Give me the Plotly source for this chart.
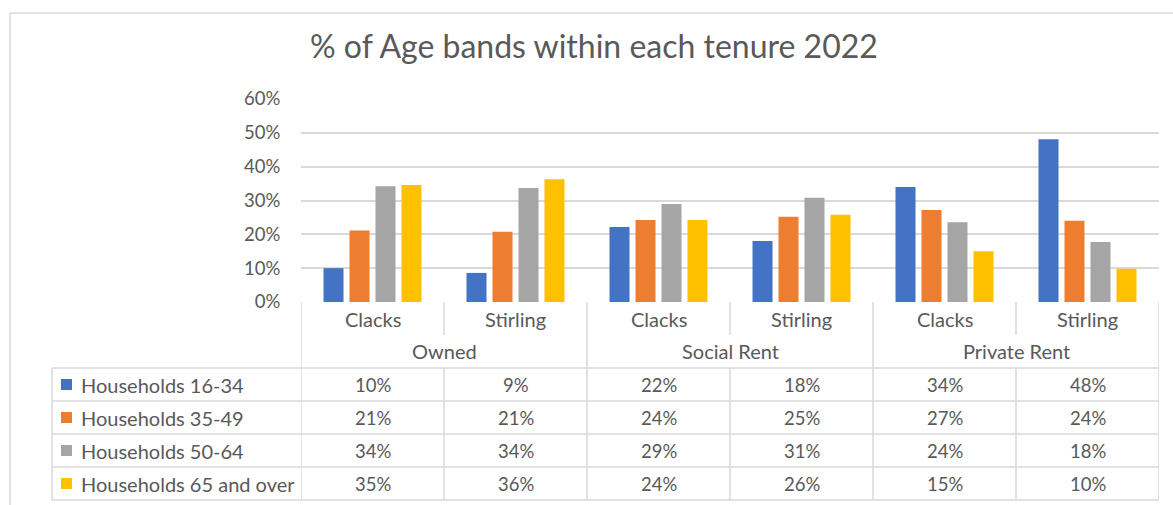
import plotly.graph_objects as go

# ---------------- data ----------------
tenures = ["Owned", "Social Rent", "Private Rent"]
areas = ["Clacks", "Stirling", "Clacks", "Stirling", "Clacks", "Stirling"]
series_names = ["Households 16-34", "Households 35-49", "Households 50-64", "Households 65 and over"]
hh_16_34 = [10.0, 8.6, 22.2, 18.0, 34.0, 48.1]
hh_35_49 = [21.1, 20.8, 24.2, 25.2, 27.2, 24.0]
hh_50_64 = [34.2, 33.7, 29.0, 30.8, 23.6, 17.7]
hh_65_over = [34.6, 36.3, 24.2, 25.8, 15.0, 9.8]
y_ticks = [0, 10, 20, 30, 40, 50, 60]
title_text = "% of Age bands within each tenure 2022"

# ---------------- style ----------------
W, H = 1173, 505
colors = ["#4472C4", "#ED7D31", "#A5A5A5", "#FFC000"]
FONT = "Lato"
TXT = "#595959"
LINE = "#d9d9d9"
LW = 1.5
PLOT_L, PLOT_R, PLOT_T, PLOT_B = 301, 1159, 99, 302
TABLE_L = 52
CAT_Y, GRP_Y = 319, 351
ROW_TOP, ROW_H = 368, 33
FS_TXT = 20
FS_NUM = 18.5


def px(x):
    return x / W


def py(y):
    return 1 - y / H


series_values = [hh_16_34, hh_35_49, hh_50_64, hh_65_over]
xpos = list(range(len(areas)))

fig = go.Figure()
for name, vals, col in zip(series_names, series_values, colors):
    fig.add_trace(go.Bar(x=xpos, y=[v / 100 for v in vals], name=name,
                         marker=dict(color=col, line=dict(width=0))))

shapes = []
annotations = []

# outer chart frame
shapes.append(dict(type="line", xref="paper", yref="paper", x0=px(10), x1=1.0,
                   y0=py(13), y1=py(13), line=dict(color=LINE, width=LW)))
shapes.append(dict(type="line", xref="paper", yref="paper", x0=px(10), x1=px(10),
                   y0=py(13), y1=0.0, line=dict(color=LINE, width=LW)))

n = len(areas)
table_bottom = ROW_TOP + ROW_H * len(series_names)
for i in range(n + 1):
    xb = i - 0.5
    if i % 2 == 0:
        shapes.append(dict(type="line", xref="x", yref="paper", x0=xb, x1=xb,
                           y0=py(PLOT_B), y1=py(table_bottom), line=dict(color=LINE, width=LW)))
    else:
        shapes.append(dict(type="line", xref="x", yref="paper", x0=xb, x1=xb,
                           y0=py(PLOT_B), y1=py(335), line=dict(color=LINE, width=LW)))
        shapes.append(dict(type="line", xref="x", yref="paper", x0=xb, x1=xb,
                           y0=py(ROW_TOP), y1=py(table_bottom), line=dict(color=LINE, width=LW)))
shapes.append(dict(type="line", xref="paper", yref="paper", x0=px(TABLE_L), x1=px(TABLE_L),
                   y0=py(ROW_TOP), y1=py(table_bottom), line=dict(color=LINE, width=LW)))
for r in range(len(series_names) + 1):
    yy = ROW_TOP + r * ROW_H
    shapes.append(dict(type="line", xref="paper", yref="paper", x0=px(TABLE_L), x1=px(PLOT_R),
                       y0=py(yy), y1=py(yy), line=dict(color=LINE, width=LW)))

for i, a in enumerate(areas):
    annotations.append(dict(x=i, xref="x", y=py(CAT_Y), yref="paper", text=a, showarrow=False,
                            xanchor="center", yanchor="middle", font=dict(family=FONT, size=FS_TXT, color=TXT)))
for g, t in enumerate(tenures):
    annotations.append(dict(x=2 * g + 0.5, xref="x", y=py(GRP_Y), yref="paper", text=t, showarrow=False,
                            xanchor="center", yanchor="middle", font=dict(family=FONT, size=FS_TXT, color=TXT)))

for r, (name, vals, col) in enumerate(zip(series_names, series_values, colors)):
    yc = ROW_TOP + r * ROW_H + ROW_H / 2
    shapes.append(dict(type="rect", xref="paper", yref="paper", x0=px(61), x1=px(72),
                       y0=py(yc - 5.5), y1=py(yc + 5.5), fillcolor=col, line=dict(width=0)))
    annotations.append(dict(x=px(79), xref="paper", y=py(yc), yref="paper", text=name, showarrow=False,
                            xanchor="left", yanchor="middle", font=dict(family=FONT, size=FS_TXT, color=TXT)))
    for i, v in enumerate(vals):
        annotations.append(dict(x=i, xref="x", y=py(yc), yref="paper", text=f"{round(v)}%", showarrow=False,
                                xanchor="center", yanchor="middle", font=dict(family=FONT, size=FS_NUM, color=TXT)))

annotations.append(dict(x=px(594), xref="paper", y=py(46), yref="paper", text=title_text, showarrow=False,
                        xanchor="center", yanchor="middle", font=dict(family=FONT, size=32, color=TXT)))

fig.update_layout(
    width=W, height=H, autosize=False,
    margin=dict(l=0, r=0, t=0, b=0, pad=0, autoexpand=False),
    paper_bgcolor="white", plot_bgcolor="white",
    showlegend=False,
    barmode="group", bargap=0.273, bargroupgap=0.23,
    shapes=shapes, annotations=annotations,
    xaxis=dict(domain=[px(PLOT_L), px(PLOT_R)], range=[-0.5, n - 0.5], showticklabels=False,
               showgrid=False, zeroline=False, showline=False, ticks="", automargin=False),
    yaxis=dict(domain=[py(PLOT_B), py(PLOT_T)], range=[0, 0.6], automargin=False,
               tickvals=[t / 100 for t in y_ticks], ticktext=[f"{t}%" for t in y_ticks],
               showgrid=True, gridcolor=LINE, gridwidth=LW, zeroline=False, showline=False,
               ticks="outside", ticklen=16, tickcolor="rgba(0,0,0,0)",
               tickfont=dict(family=FONT, size=FS_NUM, color=TXT)),
)

fig.write_html("out.html")
